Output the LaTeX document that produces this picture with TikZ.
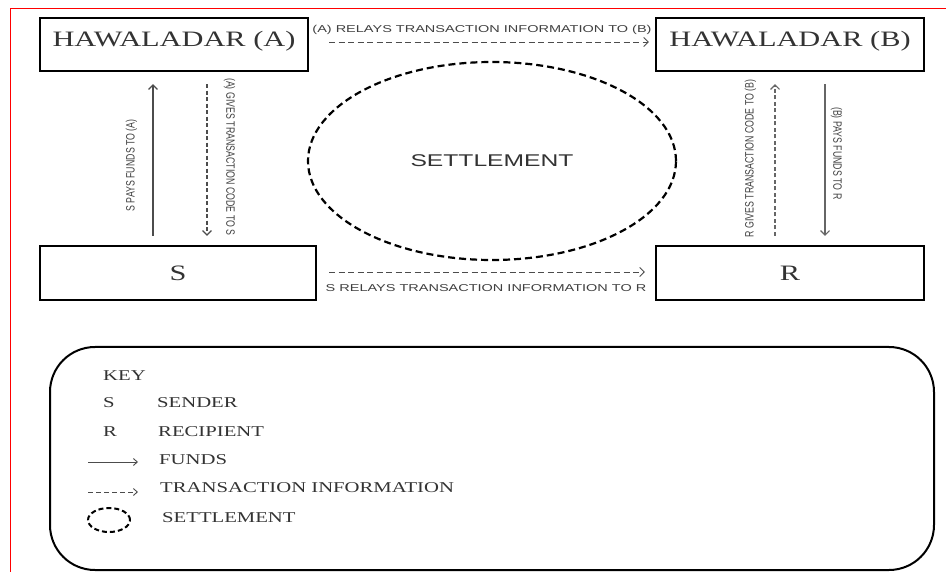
\documentclass[tikz,border=0pt]{standalone}
\usepackage{fontspec}
\setmainfont{Liberation Serif}
\newfontfamily\widerm[FakeStretch=1.38]{Liberation Serif}
\newfontfamily\widesf[FakeStretch=1.45]{Liberation Sans}
\newfontfamily\plainsf{Liberation Sans}
\usepackage{tikz}
\usetikzlibrary{shapes,arrows.meta,positioning}

\begin{document}
\begin{tikzpicture}[x=1pt, y=-1pt, node distance=616pt, >={Straight Barb[length=4.5pt,width=9pt]}]
    % Define styles
    \tikzstyle{agent} = [rectangle, draw=black, line width=2.4pt, minimum width=268pt, inner sep=0pt, text height=29pt, text depth=24pt, text=black!80, font=\widerm\fontsize{22}{22}\selectfont]
    \tikzstyle{party} = [agent, minimum width=276pt, text height=34.5pt, text depth=19.5pt]
    \tikzstyle{settlement} = [ellipse, draw=black, line width=2.2pt, dash pattern=on 7pt off 4pt, minimum width=368pt, minimum height=198pt, text=black!80, font=\widesf\fontsize{17}{17}\selectfont]
    \tikzstyle{infoarrow} = [->, draw=black!70, line width=0.9pt, dash pattern=on 6pt off 3.5pt]
    \tikzstyle{vinfoarrow} = [->, draw=black!60, line width=1.1pt, dash pattern=on 4pt off 2.5pt]
    \tikzstyle{fundarrow} = [->, draw=black!60, line width=1.1pt]
    \tikzstyle{hlabel} = [inner sep=0pt, text=black!75, font=\widesf\fontsize{10}{10}\selectfont]
    \tikzstyle{vlabel} = [inner sep=0pt, text=black!75, font=\plainsf\fontsize{8.8}{8.8}\selectfont]
    \tikzstyle{upleft} = [vlabel, xscale=1.38, rotate=90, anchor=south]
    \tikzstyle{downright} = [vlabel, xscale=1.38, rotate=-90, anchor=south]
    \tikzstyle{keybox} = [rectangle, draw=black, line width=2pt, rounded corners=45pt, minimum width=884pt, minimum height=223pt]
    \tikzstyle{keytext} = [anchor=west, inner sep=0pt, text=black!80, font=\widerm\fontsize{15}{15}\selectfont]
    \tikzstyle{keyarrow} = [->, >={Straight Barb[length=4pt,width=7pt]}, draw=black!70, line width=0.9pt]

    \useasboundingbox (0,0) rectangle (946,572);
    \draw [red, line width=1pt] (946,9) -- (10,9) -- (10,572);

    % Nodes
    \node [agent] (hawA) at (174,44.5) {HAWALADAR (A)};
    \node [agent, right of=hawA] (hawB) {HAWALADAR (B)};
    \node [party] (sender) at (178,273) {S};
    \node [party, minimum width=268pt, right of=sender, node distance=612pt] (recip) {R};
    \node [settlement] (settle) at (492,161) {SETTLEMENT};

    \coordinate (lineSA) at (153,0);
    \coordinate (lineAS) at (207,0);
    \coordinate (lineRB) at (775,0);
    \coordinate (lineBR) at (825,0);

    % Arrows
    \draw [infoarrow, shorten <=20pt, shorten >=6pt] ([yshift=2.5pt]hawA.east) -- ([yshift=2.5pt]hawB.west) node[hlabel, midway, above=7pt] {(A) RELAYS TRANSACTION INFORMATION TO (B)};
    \draw [infoarrow, shorten <=12pt, shorten >=10pt] ([yshift=1pt]sender.east) -- ([yshift=1pt]recip.west) node[hlabel, midway, below=12pt] {S RELAYS TRANSACTION INFORMATION TO R};
    \draw [fundarrow, draw=black!70, shorten <=9pt, shorten >=12pt] (sender.north -| lineSA) -- (hawA.south -| lineSA) node[xshift=-15pt, upleft, pos=0.46] {S PAYS FUNDS TO (A)};
    \draw [vinfoarrow, draw=black!70, shorten <=12pt, shorten >=9pt] (hawA.south -| lineAS) -- (sender.north -| lineAS) node[xshift=16pt, downright, pos=0.49] {(A) GIVES TRANSACTION CODE TO S};
    \draw [vinfoarrow, shorten <=9pt, shorten >=12pt] (recip.north -| lineRB) -- (hawB.south -| lineRB) node[xshift=-18pt, upleft, pos=0.5] {R GIVES TRANSACTION CODE TO (B)};
    \draw [fundarrow, shorten <=12pt, shorten >=9pt] (hawB.south -| lineBR) -- (recip.north -| lineBR) node[xshift=5pt, downright, pos=0.47] {(B) PAYS FUNDS TO R};

    % Key
    \node [keybox] (key) at (492,458.5) {};
    \node [keytext] (keyHead) at (103,376) {KEY};
    \node [keytext] (keyS) at (103,403) {S};
    \node [keytext] (keySender) at (157,403) {SENDER};
    \node [keytext] (keyR) at (103,432) {R};
    \node [keytext] (keyRecip) at (158,432) {RECIPIENT};
    \node [keytext] (keyFunds) at (159,460) {FUNDS};
    \node [keytext] (keyInfo) at (160,488) {TRANSACTION INFORMATION};
    \node [keytext] (keySettle) at (162,518) {SETTLEMENT};
    \coordinate (keyFundsTail) at (88,462);
    \coordinate (keyInfoTail) at (88,492);
    \draw [keyarrow, shorten >=21pt] (keyFundsTail) -- (keyFunds.west |- keyFundsTail);
    \draw [keyarrow, dash pattern=on 5pt off 3pt, shorten >=22pt] (keyInfoTail) -- (keyInfo.west |- keyInfoTail);
    \node [ellipse, draw=black, line width=2pt, dash pattern=on 5pt off 3pt, minimum width=42pt, minimum height=24pt] (keyCircle) at (109,520) {};
\end{tikzpicture}
\end{document}
